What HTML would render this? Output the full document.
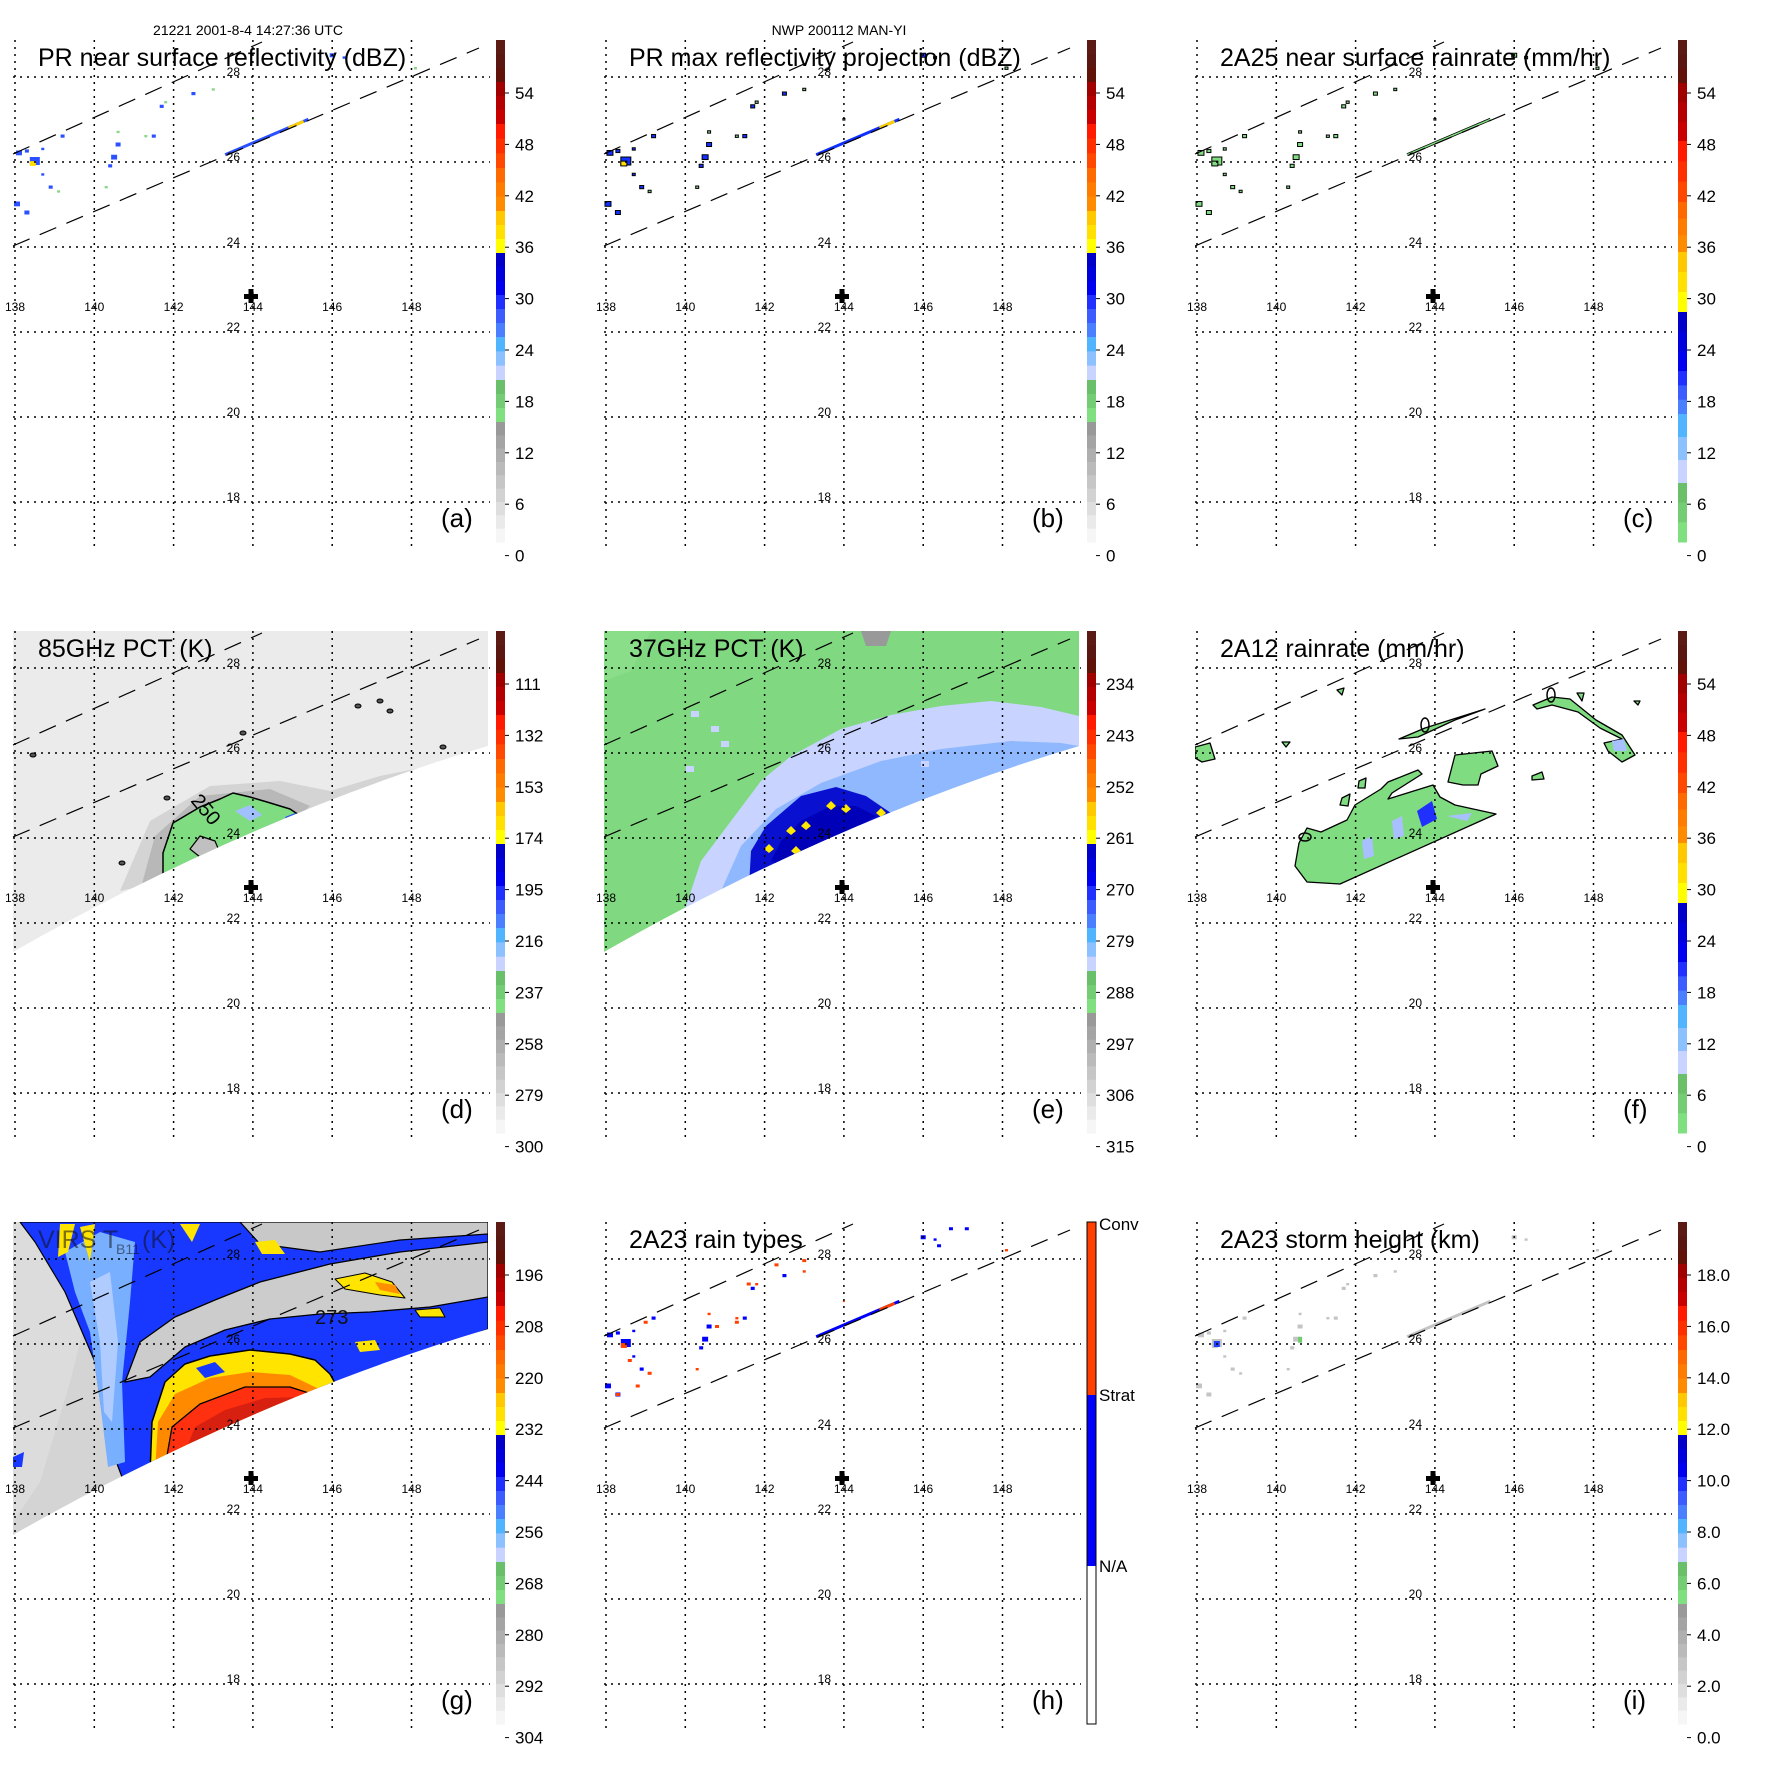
<!DOCTYPE html>
<html><head><meta charset="utf-8">
<style>
html,body{margin:0;padding:0;background:#fff;}
svg{display:block;font-family:"Liberation Sans",Arial,sans-serif;}
</style></head>
<body>
<svg id="fig" width="1771" height="1771" viewBox="0 0 1771 1771" xmlns="http://www.w3.org/2000/svg">
<rect width="1771" height="1771" fill="#fff"/>
<text x="248" y="35" font-size="14" text-anchor="middle">21221 2001-8-4 14:27:36 UTC</text>
<text x="839" y="35" font-size="14" text-anchor="middle">NWP 200112 MAN-YI</text>
</svg>
<script>
// ---- axis data ----
const lonTicks = [138,140,142,144,146,148];
const latTicks = [28,26,24,22,20,18];
const cbLabelsA = ['54','48','42','36','30','24','18','12','6','0'];
const cbLabelsB = ['54','48','42','36','30','24','18','12','6','0'];
const cbLabelsC = ['54','48','42','36','30','24','18','12','6','0'];
const cbLabelsD = ['111','132','153','174','195','216','237','258','279','300'];
const cbLabelsE = ['234','243','252','261','270','279','288','297','306','315'];
const cbLabelsF = ['54','48','42','36','30','24','18','12','6','0'];
const cbLabelsG = ['196','208','220','232','244','256','268','280','292','304'];
const cbLabelsH = ['Conv','Strat','N/A'];
const cbLabelsI = ['18.0','16.0','14.0','12.0','10.0','8.0','6.0','4.0','2.0','0.0'];
// PR rain echoes: lon, lat, size, type (s=strat, c=conv, g=weak)
const echoLon  = [138.5,138.45,138.1,138.3,138.7,138.9,139.1,138.05,138.3,138.7,139.2,140.5,140.6,140.4,140.6,140.3,141.3,141.5,141.7,141.8,142.5,143.0,144.0,146.0,146.3,148.1];
const echoLat  = [26.0,25.95,26.2,26.25,26.3,25.4,25.3,25.0,24.8,25.7,26.6,26.1,26.4,25.9,26.7,25.4,26.6,26.6,27.3,27.4,27.6,27.7,27.0,28.5,28.45,28.2];
const echoSize = [10,6,6,4,3,4,3,6,5,3,4,6,5,4,3,3,3,4,4,3,4,3,2,5,3,3];
const echoType = ['s','c','s','s','s','s','g','s','s','s','s','s','s','s','g','g','g','s','s','g','s','g','g','s','s','g'];
// extra 2A23 echoes
const h23Lon  = [145.4,145.6,146.7,147.1,146.4,143.0,141.6,142.3,138.6,139.1,138.8,140.8,141.3,138.3,139.0];
const h23Lat  = [28.95,28.9,28.7,28.7,28.3,27.95,27.4,27.85,25.6,25.3,25.0,26.4,26.5,24.8,26.5];
const h23Type = ['s','c','s','s','s','c','c','c','c','c','c','c','c','c','c'];
// streak along swath edge: lon start/end
const streakLon = [143.3,145.4];

function X(lon){return 15+(lon-138)*39.65;}
function Y(lat){return 77+(28-lat)*42.5;}
function edgeY(px){return 246-0.4255*(px-13);}

const NS='http://www.w3.org/2000/svg';
const fig=document.getElementById('fig');
function mk(tag,attrs,parent){const e=document.createElementNS(NS,tag);for(const k in attrs)e.setAttribute(k,attrs[k]);parent.appendChild(e);return e;}

function expand(list){const out=[];list.forEach(b=>{b[0].forEach(c=>out.push([c,b[1]/b[0].length]));});return out;}
const stdPal = expand([
 [['#5c1a14','#5a1610','#601208'],42],[['#a00000','#b40000','#c80000'],42],[['#ff1a00','#ff3000','#ff4800'],44],
 [['#ff6a00','#ff7c00','#ff8c00'],43],[['#ffc800','#ffe000','#ffff00'],42],[['#0000c8','#0000dc','#0000f0'],42],
 [['#2030ff','#3c5cff','#4a80ff'],42],[['#50b4ff','#8cc0ff','#c8d4ff'],43],[['#6abf6a','#74cc74','#80e080'],42],
 [['#999999','#a4a4a4','#afafaf','#bababa','#c6c6c6','#d2d2d2','#dedede','#eaeaea','#f6f6f6'],120]]);
const rainPal = expand([
 [['#5c1a14','#5a1610','#601208'],43],[['#a00000','#b40000','#c80000'],58],[['#ff1a00','#ff3000','#ff4800'],61],
 [['#ff6a00','#ff7c00','#ff8c00'],50],[['#ffc800','#ffe000','#ffff00'],60],[['#0000c8','#0000dc','#0000f0'],59],
 [['#2030ff','#3c5cff','#4a80ff'],43],[['#50b4ff','#8cc0ff','#c8d4ff'],69],[['#6abf6a','#74cc74','#80e080'],59]]);

const panels=[
 {id:'a',ox:0,oy:0,title:'PR near surface reflectivity (dBZ)',labels:cbLabelsA,pal:'std'},
 {id:'b',ox:591,oy:0,title:'PR max reflectivity projection (dBZ)',labels:cbLabelsB,pal:'std'},
 {id:'c',ox:1182,oy:0,title:'2A25 near surface rainrate (mm/hr)',labels:cbLabelsC,pal:'rain'},
 {id:'d',ox:0,oy:591,title:'85GHz PCT (K)',labels:cbLabelsD,pal:'std'},
 {id:'e',ox:591,oy:591,title:'37GHz PCT (K)',labels:cbLabelsE,pal:'std'},
 {id:'f',ox:1182,oy:591,title:'2A12 rainrate (mm/hr)',labels:cbLabelsF,pal:'rain'},
 {id:'g',ox:0,oy:1182,title:'VIRS',labels:cbLabelsG,pal:'std'},
 {id:'h',ox:591,oy:1182,title:'2A23 rain types',labels:cbLabelsH,pal:'type'},
 {id:'i',ox:1182,oy:1182,title:'2A23 storm height (km)',labels:cbLabelsI,pal:'std'}
];

function poly(g,pts,fill,stroke,sw){return mk('polygon',{points:pts.map(p=>p.join(',')).join(' '),fill:fill,stroke:stroke||'none','stroke-width':sw||0,'stroke-linejoin':'round'},g);}

panels.forEach(p=>{
 const g=mk('g',{transform:`translate(${p.ox},${p.oy})`},fig);
 
 
 const defs=mk('defs',{},g);
 const cp=mk('clipPath',{id:'sw'+p.id},defs);
 const swPath = p.id==='g' ? 'M13,40 L488,40 L488,147 Q250,218 13,353 Z' : 'M13,40 L488,40 L488,155 Q250,226 13,361 Z';
 mk('path',{d:swPath},cp);
 const cp2=mk('clipPath',{id:'map'+p.id},defs);
 mk('rect',{x:13,y:40,width:476,height:511},cp2);

 const data=mk('g',{'clip-path':`url(#${['d','e','g'].includes(p.id)?'sw'+p.id:'map'+p.id})`},g);
 
 

 if(p.id==='d'){
  mk('path',{d:swPath,fill:'#ebebeb'},data);
  poly(data,[[120,300],[150,230],[210,195],[280,190],[330,200],[380,185],[430,175],[470,175],[480,200],[300,260]],'#d4d4d4');
  poly(data,[[140,300],[155,245],[200,205],[270,198],[310,215],[260,260]],'#b8b8b8');
  const blob=poly(data,[[163,290],[163,262],[173,232],[200,216],[220,208],[233,202],[250,206],[267,211],[290,218],[302,226],[305,245],[170,300]],'#80dc80','#000',1.5);
  
  poly(data,[[190,258],[200,245],[215,250],[220,262],[205,270]],'#c0c0c0','#000',1.2);
  poly(data,[[235,220],[250,214],[262,224],[250,230]],'#a0c0ff');
  poly(data,[[285,226],[295,222],[300,230],[288,232]],'#3050ff');
  [[33,164],[167,207],[122,272],[243,142],[358,115],[380,110],[390,120],[443,156]].forEach(c=>{mk('ellipse',{cx:c[0],cy:c[1],rx:3,ry:2,fill:'#555',stroke:'#000','stroke-width':1},data);});
  const t=mk('text',{x:0,y:0,'font-size':20,transform:'translate(190,210) rotate(50)'},g);
  t.textContent='250';
  
  
 }
 if(p.id==='e'){
  mk('path',{d:swPath,fill:'#80d880'},data);
  poly(data,[[13,40],[60,40],[40,80],[13,90]],'#8ade8a');
  poly(data,[[90,330],[110,270],[140,230],[170,190],[200,165],[250,138],[300,124],[350,115],[400,110],[450,116],[488,125],[488,200],[100,340]],'#c8d4ff');
  poly(data,[[130,300],[150,255],[185,218],[230,192],[290,170],[350,158],[420,150],[470,152],[488,155],[300,240]],'#90b8ff');
  poly(data,[[158,295],[160,260],[175,235],[210,205],[245,196],[275,205],[300,222],[298,235],[165,300]],'#0a10d0');
  poly(data,[[180,270],[190,250],[210,230],[240,215],[265,215],[285,225],[200,280]],'#0000b8');
  [[200,240],[215,235],[240,215],[255,218],[178,258],[205,260],[290,222]].forEach(c=>{poly(data,[[c[0]-5,c[1]],[c[0],c[1]-5],[c[0]+5,c[1]],[c[0],c[1]+4]],'#ffe800');});
  poly(data,[[270,40],[300,40],[295,55],[275,55]],'#999');
  [[100,120],[120,135],[130,150],[95,175],[330,170],[360,130],[440,135]].forEach(c=>{poly(data,[[c[0],c[1]],[c[0]+8,c[1]],[c[0]+8,c[1]+6],[c[0],c[1]+6]],'#c8d4ff');});
 }
 if(p.id==='g'){
  mk('path',{d:swPath,fill:'#d4d4d4'},data);
  poly(data,[[13,40],[100,40],[90,120],[70,200],[40,300],[13,340]],'#dcdcdc');
  poly(data,[[20,40],[488,40],[488,147],[335,205],[150,290],[122,295],[105,250],[95,180],[65,110],[35,60]],'#1838ff','#000',1.2);
  poly(data,[[65,70],[100,50],[135,60],[130,120],[122,200],[125,280],[108,285],[100,220],[90,150],[75,110]],'#78b0ff');
  poly(data,[[90,100],[110,90],[118,160],[112,240],[104,230],[100,160]],'#b0ccff');
  poly(data,[[125,200],[140,160],[175,135],[215,118],[260,100],[330,82],[400,70],[488,60],[488,115],[430,125],[370,130],[320,132],[270,137],[225,148],[185,165],[150,195]],'#cccccc','#000',1.3);
  poly(data,[[240,40],[488,40],[488,52],[400,58],[320,70],[260,62]],'#c8c8c8','#000',1.2);
  poly(data,[[150,292],[152,240],[165,200],[185,182],[210,174],[250,168],[290,172],[315,178],[330,192],[340,210]],'#ffe400','#000',1.5);
  poly(data,[[196,186],[215,180],[225,190],[205,196]],'#1838ff');
  poly(data,[[155,290],[158,240],[175,212],[210,196],[250,190],[290,193],[315,205],[330,212]],'#ff8a00');
  poly(data,[[165,285],[172,245],[200,222],[245,205],[290,205],[318,214]],'#ff3010','#000',1.3);
  poly(data,[[185,270],[195,245],[225,228],[265,216],[305,215]],'#d82010');
  poly(data,[[335,97],[365,91],[392,100],[405,116],[380,113],[345,107]],'#ffe400','#000',1);
  poly(data,[[375,100],[395,103],[400,112],[380,108]],'#ff9000');
  poly(data,[[415,128],[440,126],[445,135],[420,135]],'#ffe400','#000',1);
  poly(data,[[355,160],[375,158],[380,168],[360,170]],'#ffe400');
  poly(data,[[60,42],[75,42],[68,70],[58,75]],'#ffe400');
  poly(data,[[180,42],[200,42],[192,60]],'#ffe400');
  poly(data,[[255,60],[275,58],[285,72],[262,72]],'#ffe400');
  poly(data,[[80,45],[95,42],[90,80]],'#ffe400');
  poly(data,[[13,275],[24,270],[22,285],[13,285]],'#1838ff');
  const vt=mk('text',{x:38,y:66,'font-size':25,fill:'#111','fill-opacity':0.55},g);
  vt.textContent='VIRS T';
  
  
  const vs=mk('text',{x:116,y:72,'font-size':14,fill:'#111','fill-opacity':0.55},g);
  vs.textContent='B11';
  
  
  const vk=mk('text',{x:142,y:66,'font-size':25,fill:'#111','fill-opacity':0.55},g);
  vk.textContent='(K)';
  
  
  const cl=mk('text',{x:315,y:142,'font-size':20,fill:'#111'},g);
  cl.textContent='273';
  
  
 }
 if(p.id==='f'){
  const G='#80dc80';
  const blobs=[
   [[117,252],[125,237],[139,241],[165,229],[173,214],[199,198],[206,191],[236,179],[240,183],[210,202],[206,208],[251,194],[258,206],[273,214],[314,223],[158,293],[125,291],[113,275]],
   [[266,191],[273,164],[310,160],[316,175],[299,183],[296,194],[281,194]],
   [[217,148],[243,137],[303,118],[273,129],[236,146]],
   [[351,114],[370,106],[388,108],[414,129],[440,144],[453,164],[440,171],[426,160],[422,152],[440,148],[418,137],[396,121],[370,114],[355,118]],
   [[13,156],[28,152],[33,168],[20,171],[13,167]],
   [[160,207],[168,203],[166,215],[158,214]],[[177,190],[184,187],[183,197],[176,197]],[[350,185],[360,181],[362,188],[350,189]],
   [[155,99],[162,97],[160,104]],[[100,151],[108,151],[104,156]],[[395,102],[402,102],[400,110]],[[452,110],[458,110],[456,114]]
  ];
  blobs.forEach((b,i)=>{const e=poly(data,b,G,'#000',1.3);});
  poly(data,[[235,220],[250,210],[255,228],[240,236]],'#2030ff');
  poly(data,[[210,230],[220,225],[222,245],[212,248]],'#a8c0ff');
  poly(data,[[180,250],[190,245],[192,265],[182,268]],'#a8c0ff');
  poly(data,[[265,225],[290,222],[285,230]],'#a8c0ff');
  poly(data,[[430,150],[442,148],[445,160],[432,160]],'#a8c0ff');
  [[123,246,6,4],[243,134,4,7],[369,104,4,7]].forEach(c=>{mk('ellipse',{cx:c[0],cy:c[1],rx:c[2],ry:c[3],fill:'none',stroke:'#000','stroke-width':1.5},data);});
 }
 if(['a','b','c','h','i'].includes(p.id)){
  const col={a:{s:'#2a50ff',c:'#ffe000',g:'#8cd68c'},b:{s:'#1030ff',c:'#ffe000',g:'#80d080'},c:{s:'#80dc80',c:'#80dc80',g:'#80dc80'},h:{s:'#0000ff',c:'#ff4000',g:'#ff4000'},i:{s:'#c4c4c4',c:'#c4c4c4',g:'#c4c4c4'}}[p.id];
  const stroke = (p.id==='b'||p.id==='c')?'#000':'none';
  echoLon.forEach((lon,i)=>{
   const s=echoSize[i];
   const r=mk('rect',{x:X(lon)-s/2,y:Y(echoLat[i])-s/2,width:s,height:s*0.8,fill:col[echoType[i]],stroke:stroke,'stroke-width':1},data);
   
  });
  if(p.id==='h'){
   h23Lon.forEach((lon,i)=>{
    const r=mk('rect',{x:X(lon)-2,y:Y(h23Lat[i])-2,width:4,height:3,fill:col[h23Type[i]]},data);
    
   });
  }
  if(p.id==='i'){
   const r=mk('rect',{x:X(138.5)-3,y:Y(26.0)-3,width:6,height:6,fill:'#2040ff'},data);
   
   const r2=mk('rect',{x:X(140.6)-2,y:Y(26.1)-3,width:4,height:6,fill:'#70cc70'},data);
   
  }
  const x1=X(streakLon[0]),x2=X(streakLon[1]);
  const sc = {a:'#2a50ff',b:'#1030ff',c:'#80dc80',h:'#0000ff',i:'#c4c4c4'}[p.id];
  if(p.id==='c'){
   const so=mk('line',{x1:x1,y1:edgeY(x1)-1,x2:x2,y2:edgeY(x2)-1,stroke:'#000','stroke-width':3},data);
   
  }
  const st=mk('line',{x1:x1,y1:edgeY(x1)-1,x2:x2,y2:edgeY(x2)-1,stroke:sc,'stroke-width':p.id==='c'?1.5:3},data);
  
  if(p.id!=='c'&&p.id!=='i'){
   const xm=X(144.9);
   const s2=mk('line',{x1:xm,y1:edgeY(xm)-1,x2:xm+15,y2:edgeY(xm+15)-1,stroke:p.id==='h'?'#ff4000':'#ffd000','stroke-width':3},data);
   
  }
 }

 // grid
 lonTicks.forEach(lon=>{
  const l=mk('line',{x1:X(lon),y1:40,x2:X(lon),y2:551,stroke:'#000','stroke-width':1.5,'stroke-dasharray':'2,5'},g);
  
  
  const t=mk('text',{x:X(lon),y:311,'font-size':12,'text-anchor':'middle'},g);
  t.textContent=lon;
  
  
 });
 latTicks.forEach(lat=>{
  const l=mk('line',{x1:13,y1:Y(lat),x2:490,y2:Y(lat),stroke:'#000','stroke-width':1.5,'stroke-dasharray':'2,5'},g);
  
  
  const t=mk('text',{x:240,y:Y(lat)-1,'font-size':12,'text-anchor':'end'},g);
  t.textContent=lat;
  
  
 });
 // swath edges
 const e1=mk('line',{x1:13,y1:246,x2:479,y2:48,stroke:'#000','stroke-width':1.2,'stroke-dasharray':'18,11'},g);
 
 
 const e2=mk('line',{x1:13,y1:154,x2:262,y2:42,stroke:'#000','stroke-width':1.2,'stroke-dasharray':'18,11'},g);
 
 
 // storm center cross
 const cr=mk('path',{d:'M244,294 h14 v5 h-14 z M248.5,289 h5 v14 h-5 z',fill:'#000'},g);
 
 
 // title
 if(p.id!=='g'){
  const tt=mk('text',{x:38,y:66,'font-size':25},g);
  tt.textContent=p.title;
  
  
 }
 const lt=mk('text',{x:441,y:527,'font-size':26},g);
 lt.textContent='('+p.id+')';
 
 
 // colorbar
 const cb=mk('g',{},g);
 
 
 if(p.pal==='type'){
  mk('rect',{x:496,y:40,width:9,height:173,fill:'#ff4000'},cb);
  mk('rect',{x:496,y:213,width:9,height:171,fill:'#0000ff'},cb);
  mk('rect',{x:496,y:40,width:9,height:502,fill:'none',stroke:'#000','stroke-width':1},cb);
  const ys=[42,213,384];
  p.labels.forEach((lab,k)=>{
   const t=mk('text',{x:508,y:ys[k]+6,'font-size':17},cb);
   t.textContent=lab;
   
   
  });
 } else {
  const pal=p.pal==='std'?stdPal:rainPal;
  let y=40;
  pal.forEach(s=>{mk('rect',{x:496,y:y,width:9,height:s[1]+0.5,fill:s[0]},cb);y+=s[1];});
  p.labels.forEach((lab,k)=>{
   const yy=93+k*51.4;
   const t=mk('text',{x:515,y:yy+6,'font-size':17},cb);
   t.textContent=lab;
   
   
   mk('line',{x1:505,y1:yy,x2:509,y2:yy,stroke:'#000','stroke-width':1},cb);
  });
 }
});
</script>
</body></html>
